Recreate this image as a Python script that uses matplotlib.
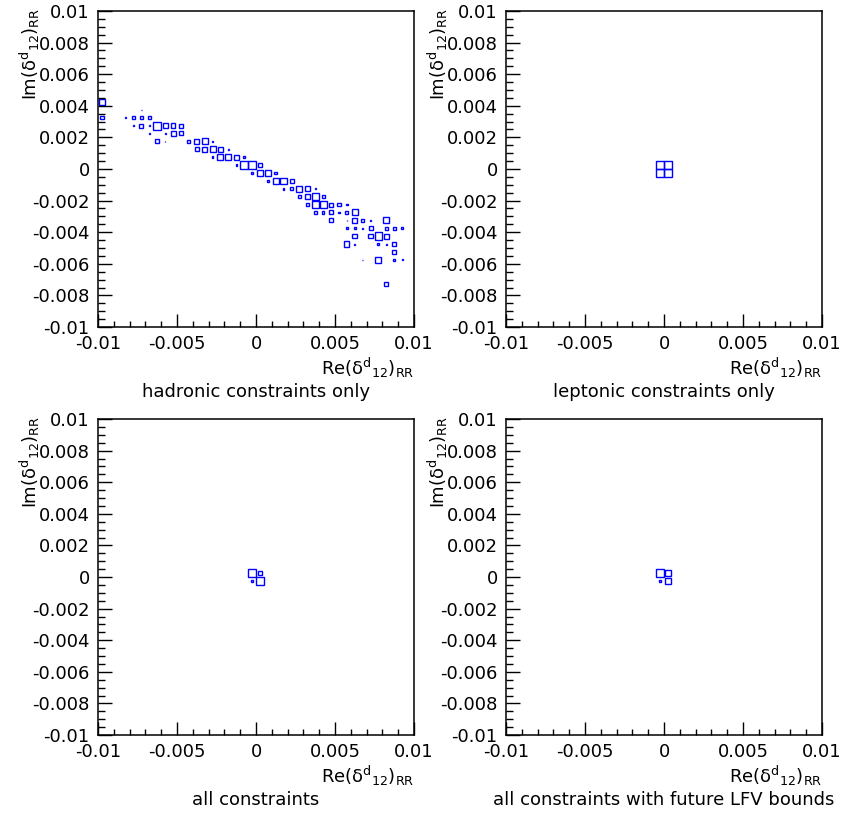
import numpy as np
import matplotlib
matplotlib.use('Agg')
import matplotlib.pyplot as plt
from matplotlib.patches import Rectangle

plt.rcParams['font.family'] = 'DejaVu Sans'
plt.rcParams['axes.unicode_minus'] = False

# 40 x 40 bins on [-0.01, 0.01] in Re and Im
edges = np.linspace(-0.01, 0.01, 41)
centers = 0.5 * (edges[:-1] + edges[1:])
binw = edges[1] - edges[0]

# hadronic constraints only: Re bin, Im bin (from bottom), content
had_re = [0, 1, 5, 0, 3, 4, 5, 6,
          4, 5, 6, 7, 8, 9, 10,
          6, 8, 9, 10,
          7, 8, 11, 12, 13, 14,
          12, 13, 14, 15, 16,
          14, 15, 16, 17, 18,
          17, 18, 19, 20,
          19, 20, 21, 22,
          21, 22, 23, 24,
          23, 24, 25, 26, 27,
          25, 26, 27, 28,
          26, 27, 28, 29, 30, 31,
          27, 28, 29, 30, 31, 32,
          29, 31, 32, 33, 34, 36,
          31, 32, 33, 34, 36, 37, 38,
          32, 34, 35, 36,
          31, 32, 35, 36, 37,
          37,
          33, 35, 37, 38, 39,
          36]
had_im = [28, 28, 27, 26, 26, 26, 26, 26,
          25, 25, 25, 25, 25, 25, 25,
          24, 24, 24, 24,
          23, 23, 23, 23, 23, 23,
          22, 22, 22, 22, 22,
          21, 21, 21, 21, 21,
          20, 20, 20, 20,
          19, 19, 19, 19,
          18, 18, 18, 18,
          17, 17, 17, 17, 17,
          16, 16, 16, 16,
          15, 15, 15, 15, 15, 15,
          14, 14, 14, 14, 14, 14,
          13, 13, 13, 13, 13, 13,
          12, 12, 12, 12, 12, 12, 12,
          11, 11, 11, 11,
          10, 10, 10, 10, 10,
          9,
          8, 8, 8, 8, 8,
          5]
had_n = [18, 2, 1, 10, 3, 10, 10, 10,
         1, 12, 4, 24, 16, 14, 12,
         1, 3, 15, 12,
         12, 1, 10, 16, 18, 5,
         12, 16, 18, 15, 4,
         4, 18, 18, 15, 6,
         4, 24, 22, 10,
         4, 20, 18, 8,
         4, 18, 20, 12,
         5, 10, 18, 16, 3,
         10, 16, 22, 10,
         10, 20, 22, 12, 10, 4,
         10, 8, 12, 4, 10, 18,
         12, 1, 16, 10, 5, 18,
         6, 6, 3, 12, 10, 8, 5,
         14, 14, 24, 16,
         16, 3, 6, 3, 12,
         12,
         2, 18, 5, 3, 1,
         12]

# leptonic constraints only
lep_re = [19, 20, 19, 20]
lep_im = [20, 20, 19, 19]
lep_n = [24, 24, 24, 24]

# all constraints
all_re = [19, 20, 19, 20]
all_im = [20, 20, 19, 19]
all_n = [24, 12, 8, 22]

# all constraints with future LFV bounds
fut_re = [19, 20, 19, 20]
fut_im = [20, 20, 19, 19]
fut_n = [24, 18, 7, 18]

titles = ['hadronic constraints only', 'leptonic constraints only',
          'all constraints', 'all constraints with future LFV bounds']
panels = [(had_re, had_im, had_n), (lep_re, lep_im, lep_n),
          (all_re, all_im, all_n), (fut_re, fut_im, fut_n)]

xticks = [-0.01, -0.005, 0, 0.005, 0.01]
xticklabels = ['-0.01', '-0.005', '0', '0.005', '0.01']
yticks = [-0.01, -0.008, -0.006, -0.004, -0.002, 0, 0.002, 0.004, 0.006, 0.008, 0.01]
yticklabels = ['-0.01', '-0.008', '-0.006', '-0.004', '-0.002', '0',
               '0.002', '0.004', '0.006', '0.008', '0.01']

xlab = r'Re(δ$^{\mathrm{d}}{}_{\mathrm{12}}$)$_{\mathrm{RR}}$'
ylab = r'Im(δ$^{\mathrm{d}}{}_{\mathrm{12}}$)$_{\mathrm{RR}}$'

fig = plt.figure(figsize=(8.43, 8.15), dpi=100)
W, H = 843.0, 815.0
pos = [(98, 11), (506, 11), (98, 419), (506, 419)]
size = 316

for p, (re_b, im_b, n), title in zip(pos, panels, titles):
    ax = fig.add_axes([p[0] / W, 1 - (p[1] + size) / H, size / W, size / H])
    nmax = max(n)
    for i, k, c in zip(re_b, im_b, n):
        s = binw * c / nmax
        ax.add_patch(Rectangle((centers[i] - s / 2, centers[k] - s / 2), s, s,
                               fill=False, edgecolor='#0000ff', lw=1.0))
    ax.set_xlim(-0.01, 0.01)
    ax.set_ylim(-0.01, 0.01)
    ax.set_xticks(xticks)
    ax.set_xticklabels(xticklabels)
    ax.set_yticks(yticks)
    ax.set_yticklabels(yticklabels)
    ax.set_xticks(np.arange(-0.01, 0.0101, 0.001), minor=True)
    ax.set_yticks(np.arange(-0.01, 0.0101, 0.0005), minor=True)
    ax.tick_params(axis='both', which='both', direction='in', labelsize=13,
                   top=False, right=False, width=1.0)
    ax.tick_params(axis='x', which='major', length=9.5, pad=6)
    ax.tick_params(axis='x', which='minor', length=4.5)
    ax.tick_params(axis='y', which='major', length=10, pad=6)
    ax.tick_params(axis='y', which='minor', length=5)
    for sp in ax.spines.values():
        sp.set_linewidth(1.1)
    ax.text(1.0, -0.13, xlab, transform=ax.transAxes, ha='right', va='center',
            fontsize=13)
    ax.text(-0.215, 1.01, ylab, transform=ax.transAxes, ha='center', va='top',
            rotation=90, fontsize=13)
    ax.text(0.5, -0.205, title, transform=ax.transAxes, ha='center', va='center',
            fontsize=13)

plt.savefig('out.png', dpi=100)
